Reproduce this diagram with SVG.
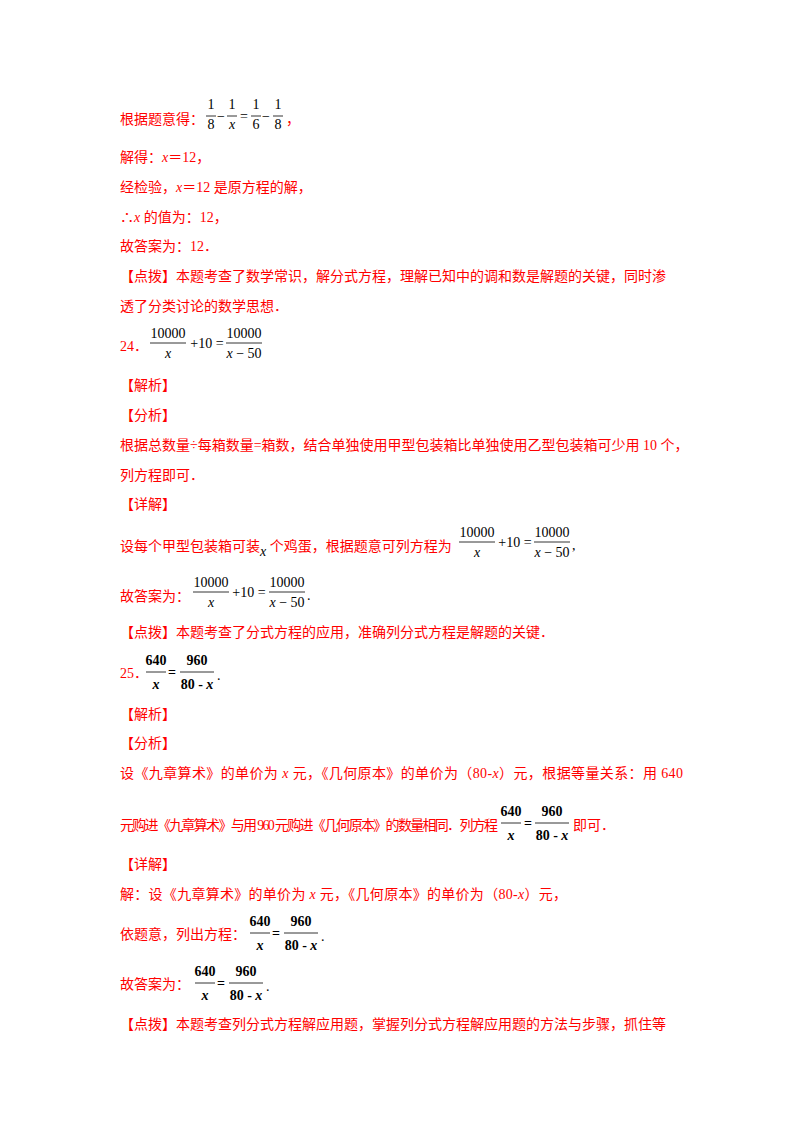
<svg xmlns="http://www.w3.org/2000/svg" width="800" height="1132" viewBox="0 0 800 1132">
<style>
.t{font-family:"Liberation Serif","Noto Sans CJK SC",serif;font-size:14px;fill:#f00}
.m{font-family:"Liberation Serif",serif;font-size:14px;fill:#000}
.b{font-family:"Liberation Serif",serif;font-size:14px;fill:#000;font-weight:bold}
.i{font-style:italic}
line{stroke:#000;stroke-width:0.8}
</style>
<rect width="800" height="1132" fill="#fff"/>
<text class="t" x="120" y="124">根据题意得：</text>
<g class="m" text-anchor="middle">
<text x="211" y="109">1</text><text x="211" y="129">8</text><text x="221" y="121">−</text>
<text x="232" y="109">1</text><text x="232" y="129" class="i">x</text><text x="244" y="121">=</text>
<text x="256" y="109">1</text><text x="256" y="129">6</text><text x="266" y="121">−</text>
<text x="278" y="109">1</text><text x="278" y="129">8</text>
</g>
<line x1="206" y1="116" x2="216" y2="116"/><line x1="227" y1="116" x2="237" y2="116"/><line x1="251" y1="116" x2="261" y2="116"/><line x1="273" y1="116" x2="283" y2="116"/>
<text class="t" x="286" y="124">，</text>
<text class="t" x="120" y="162">解得：<tspan class="i">x</tspan>＝12，</text>
<text class="t" x="120" y="192">经检验，<tspan class="i">x</tspan>＝12 是原方程的解，</text>
<text class="t" x="120" y="222">∴<tspan class="i">x</tspan> 的值为：12，</text>
<text class="t" x="120" y="251">故答案为：12．</text>
<text class="t" x="120" y="281">【点拨】本题考查了数学常识，解分式方程，理解已知中的调和数是解题的关键，同时渗</text>
<text class="t" x="120" y="311">透了分类讨论的数学思想．</text>
<text class="t" x="120" y="351">24．</text>
<g class="m" text-anchor="middle">
<text x="168" y="338">10000</text><text x="168" y="358" class="i">x</text><text x="207" y="348">+10 =</text>
<text x="244" y="338">10000</text><text x="244" y="358"><tspan class="i">x</tspan> − 50</text>
</g>
<line x1="150" y1="343" x2="186" y2="343"/><line x1="226" y1="343" x2="262" y2="343"/>
<text class="t" x="120" y="390">【解析】</text>
<text class="t" x="120" y="420">【分析】</text>
<text class="t" x="120" y="450">根据总数量÷每箱数量=箱数，结合单独使用甲型包装箱比单独使用乙型包装箱可少用 10 个，</text>
<text class="t" x="120" y="480">列方程即可．</text>
<text class="t" x="120" y="509">【详解】</text>
<text class="t" x="120" y="551">设每个甲型包装箱可装<tspan class="m i" dy="5">x</tspan><tspan dy="-5"> 个鸡蛋，根据题意可列方程为</tspan></text>
<g class="m" text-anchor="middle">
<text x="477" y="537">10000</text><text x="477" y="557" class="i">x</text><text x="515" y="547">+10 =</text>
<text x="552" y="537">10000</text><text x="552" y="557"><tspan class="i">x</tspan> − 50</text>
</g>
<line x1="459" y1="542" x2="495" y2="542"/><line x1="534" y1="542" x2="570" y2="542"/>
<text class="m" x="572" y="550">,</text>
<text class="t" x="120" y="601">故答案为：</text>
<g class="m" text-anchor="middle">
<text x="211" y="587">10000</text><text x="211" y="607" class="i">x</text><text x="249" y="597">+10 =</text>
<text x="287" y="587">10000</text><text x="287" y="607"><tspan class="i">x</tspan> − 50</text>
</g>
<line x1="193" y1="592" x2="229" y2="592"/><line x1="269" y1="592" x2="305" y2="592"/>
<text class="m" x="307" y="600">.</text>
<text class="t" x="120" y="637">【点拨】本题考查了分式方程的应用，准确列分式方程是解题的关键．</text>
<text class="t" x="120" y="678">25．</text>
<g class="b" text-anchor="middle">
<text x="156" y="665">640</text><text x="156" y="689" class="i">x</text><text x="172" y="677">=</text>
<text x="197" y="665">960</text><text x="197" y="689">80 - <tspan class="i">x</tspan></text>
</g>
<line x1="146" y1="672" x2="166" y2="672"/><line x1="180" y1="672" x2="214" y2="672"/>
<text class="m" x="217" y="680">.</text>
<text class="t" x="120" y="719">【解析】</text>
<text class="t" x="120" y="748">【分析】</text>
<text class="t" x="120" y="778" textLength="563" lengthAdjust="spacing">设《九章算术》的单价为 <tspan class="i">x</tspan> 元，《几何原本》的单价为（80-<tspan class="i">x</tspan>）元，根据等量关系：用 640</text>
<text class="t" x="120" y="830" textLength="378" lengthAdjust="spacing">元购进《九章算术》与用 960 元购进《几何原本》的数量相同．列方程</text>
<g class="b" text-anchor="middle">
<text x="511" y="816">640</text><text x="511" y="840" class="i">x</text><text x="528" y="828">=</text>
<text x="552" y="816">960</text><text x="552" y="840">80 - <tspan class="i">x</tspan></text>
</g>
<line x1="501" y1="823" x2="521" y2="823"/><line x1="535" y1="823" x2="569" y2="823"/>
<text class="t" x="573" y="830">即可．</text>
<text class="t" x="120" y="869">【详解】</text>
<text class="t" x="120" y="899" textLength="447" lengthAdjust="spacing">解：设《九章算术》的单价为 <tspan class="i">x</tspan> 元，《几何原本》的单价为（80-<tspan class="i">x</tspan>）元，</text>
<text class="t" x="120" y="939">依题意，列出方程：</text>
<g class="b" text-anchor="middle">
<text x="260" y="926">640</text><text x="260" y="950" class="i">x</text><text x="276" y="938">=</text>
<text x="301" y="926">960</text><text x="301" y="950">80 - <tspan class="i">x</tspan></text>
</g>
<line x1="250" y1="933" x2="270" y2="933"/><line x1="284" y1="933" x2="318" y2="933"/>
<text class="m" x="321" y="941">.</text>
<text class="t" x="120" y="989">故答案为：</text>
<g class="b" text-anchor="middle">
<text x="205" y="976">640</text><text x="205" y="1000" class="i">x</text><text x="221" y="988">=</text>
<text x="246" y="976">960</text><text x="246" y="1000">80 - <tspan class="i">x</tspan></text>
</g>
<line x1="195" y1="983" x2="215" y2="983"/><line x1="229" y1="983" x2="263" y2="983"/>
<text class="m" x="266" y="991">.</text>
<text class="t" x="120" y="1029">【点拨】本题考查列分式方程解应用题，掌握列分式方程解应用题的方法与步骤，抓住等</text>
</svg>
